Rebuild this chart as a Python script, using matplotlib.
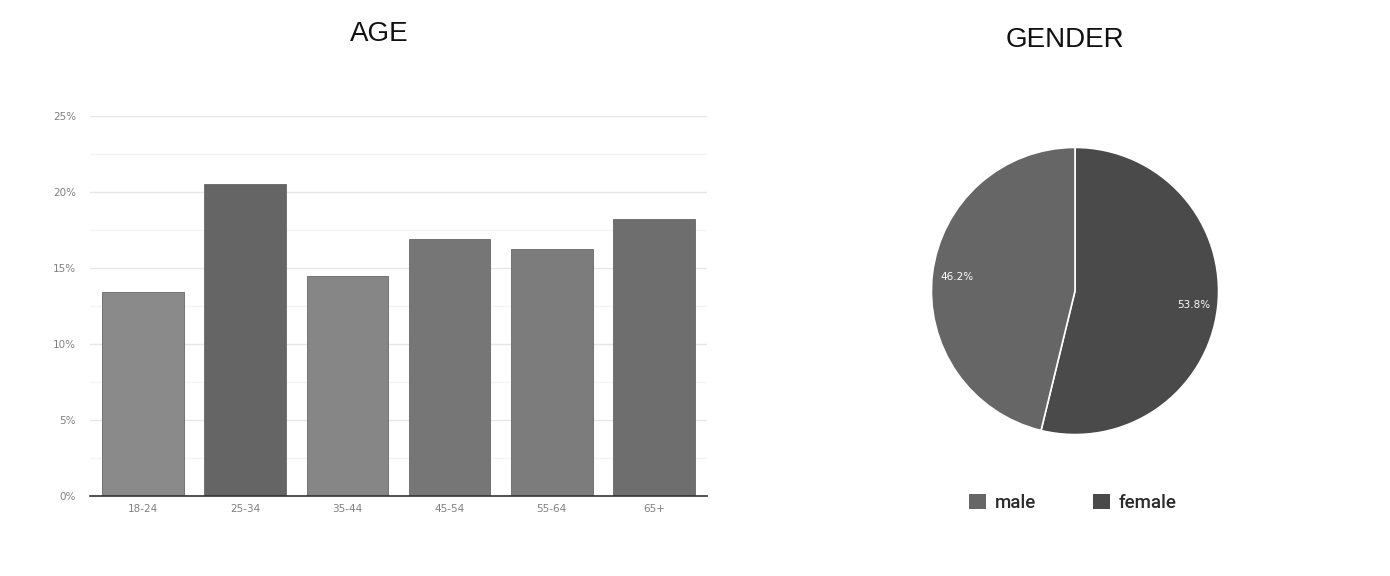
import matplotlib
matplotlib.use('Agg')
import matplotlib.pyplot as plt
from matplotlib.patches import Patch

# AGE bar chart
age_groups = ['18-24', '25-34', '35-44', '45-54', '55-64', '65+']
age_pct = [13.4, 20.5, 14.5, 16.9, 16.25, 18.2]
age_colors = ['#8a8a8a', '#656565', '#868686', '#767676', '#7c7c7c', '#6e6e6e']
y_ticks = [0, 5, 10, 15, 20, 25]
y_minor = [2.5, 7.5, 12.5, 17.5, 22.5]

# GENDER pie
gender_labels = ['female', 'male']
gender_pct = [53.8, 46.2]
gender_colors = ['#4a4a4a', '#666666']

W, H = 1390, 576
fig = plt.figure(figsize=(W / 100, H / 100), dpi=100)
fig.patch.set_facecolor('white')

# --- bar chart ---
ax = fig.add_axes([90 / W, 1 - 496 / H, (707 - 90) / W, (496 - 116) / H])
xs = list(range(len(age_groups)))
ax.bar(xs, age_pct, width=0.8, color=age_colors, edgecolor='#666666',
       linewidth=0.6, zorder=3)
ax.set_xlim(-0.52, 5.52)
ax.set_ylim(0, 25)
ax.set_yticks(y_ticks)
ax.set_yticklabels([f'{v}%' for v in y_ticks])
ax.set_yticks(y_minor, minor=True)
ax.set_xticks(xs)
ax.set_xticklabels(age_groups)
ax.grid(axis='y', which='major', color='#e6e6e6', linewidth=1, zorder=0)
ax.grid(axis='y', which='minor', color='#f4f4f4', linewidth=1, zorder=0)
ax.tick_params(axis='both', which='both', length=0, labelsize=7.5,
               labelcolor='#808080')
ax.tick_params(axis='y', pad=10)
ax.tick_params(axis='x', pad=6)
for s in ['top', 'right', 'left']:
    ax.spines[s].set_visible(False)
ax.spines['bottom'].set_color('#333333')
ax.spines['bottom'].set_linewidth(1.2)
ax.spines['bottom'].set_zorder(4)

fig.text(379 / W, 1 - 34 / H, 'AGE', ha='center', va='center',
         fontsize=20, color='#111111', family='Liberation Sans')

# --- pie chart ---
r = 145
cx, cy = 1075, 291
pax = fig.add_axes([(cx - r) / W, 1 - (cy + r) / H, 2 * r / W, 2 * r / H])
wedges, texts, autotexts = pax.pie(
    gender_pct, colors=gender_colors, startangle=90, counterclock=False,
    autopct='%1.1f%%', pctdistance=0.83,
    wedgeprops=dict(edgecolor='white', linewidth=1.2),
    textprops=dict(color='white', fontsize=7.5))
pax.set_xlim(-1.01, 1.01)
pax.set_ylim(-1.01, 1.01)

fig.text(1065 / W, 1 - 40 / H, 'GENDER', ha='center', va='center',
         fontsize=20, color='#111111', family='Liberation Sans')

handles = [Patch(facecolor=gender_colors[1], edgecolor='none', label='male'),
           Patch(facecolor=gender_colors[0], edgecolor='none', label='female')]
fig.legend(handles=handles, loc='center', ncol=2,
           bbox_to_anchor=(1073 / W, 1 - 503 / H), frameon=False,
           handlelength=0.9, handleheight=0.9, handletextpad=0.5,
           columnspacing=3.0, prop=dict(family='Roboto', size=13.5, weight='medium'),
           labelcolor='#2a2a2a')

fig.savefig('out.png', dpi=100, facecolor='white')
